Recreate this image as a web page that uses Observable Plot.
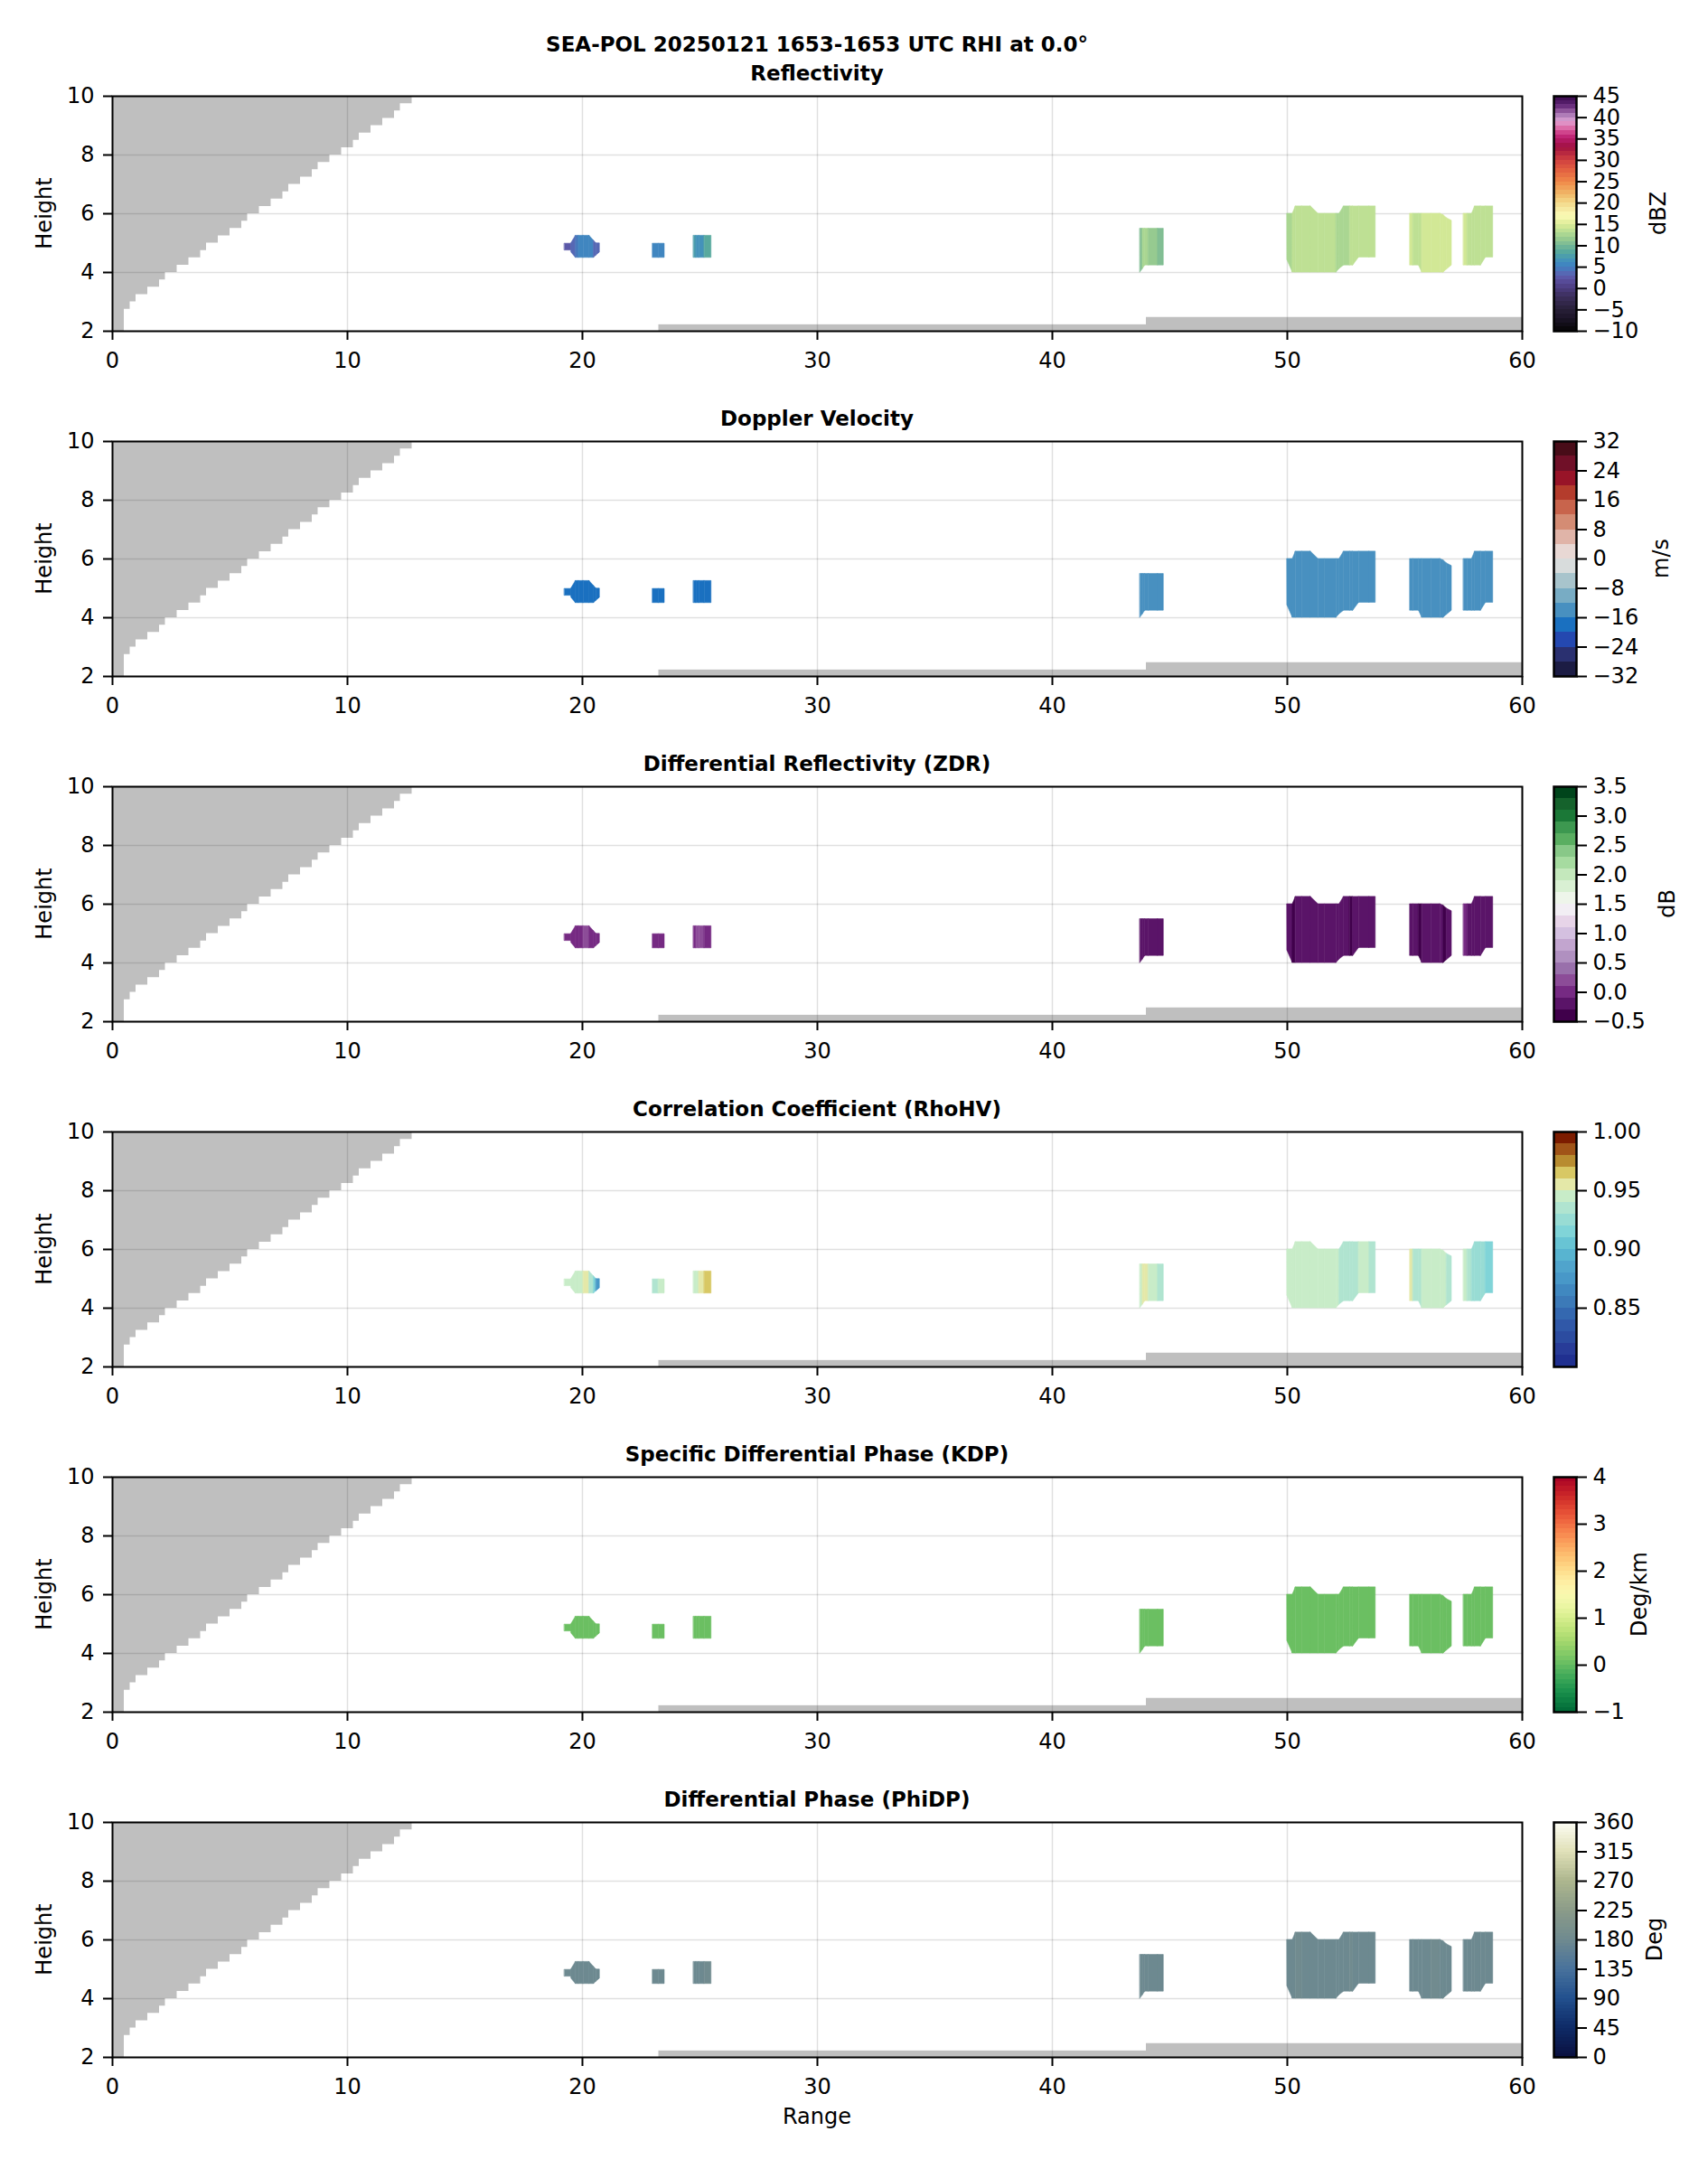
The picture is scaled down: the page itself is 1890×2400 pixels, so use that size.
<!DOCTYPE html>
<html><head><meta charset="utf-8">
<script src="https://cdn.jsdelivr.net/npm/d3@7"></script>
<script src="https://cdn.jsdelivr.net/npm/@observablehq/plot@0.6"></script>
<style>
body{margin:0;background:#fff;}
#root{position:relative;width:1890px;height:2400px;font-family:"DejaVu Sans",Arial,sans-serif;color:#000;background:#fff;}
.lbl{position:absolute;white-space:nowrap;font-size:24px;line-height:1;transform:translate(-50%,-50%);}
.ttl{position:absolute;white-space:nowrap;font-size:23px;font-weight:bold;line-height:1;transform:translate(-50%,-50%);}
.rot{transform:translate(-50%,-50%) rotate(-90deg);}
</style></head><body><div id="root"></div><script>
// ---------- data ----------
const mainTitle = "SEA-POL 20250121 1653-1653 UTC RHI at 0.0°";
const rangeTicks = [0, 10, 20, 30, 40, 50, 60];
const heightTicks = [2, 4, 6, 8, 10];

// blocked (grey) staircase wedge: upper height of each band and its right edge in range
const wedgeTop  = [2.75,3.0,3.25,3.5,3.75,4.0,4.25,4.5,4.75,5.0,5.25,5.5,5.75,6.0,6.25,6.5,6.75,7.0,7.25,7.5,7.75,8.0,8.25,8.5,8.75,9.0,9.25,9.5,9.75,10.0];
const wedgeEdge = [0.5,0.75,1.0,1.5,2.0,2.25,2.75,3.25,3.75,4.0,4.5,5.0,5.5,5.75,6.25,6.75,7.25,7.5,8.0,8.5,8.75,9.25,9.75,10.25,10.5,11.0,11.5,12.0,12.25,12.75];
// ground / low grey strips
const groundStart = [23.25, 44.0];
const groundEnd   = [44.0, 60.0];
const groundTop   = [2.22, 2.47];

// echo blobs: column range positions with bottom / top heights
const blobRange = [
  [19.25,19.53,19.53,19.72,19.85,20.05,20.30,20.49,20.59,20.74],
  [23.0,23.25,23.5],
  [24.74,24.85,24.97,25.2,25.49],
  [43.74,43.85,43.95,44.1,44.5,44.74],
  [50.0,50.23,50.36,50.64,51.0,51.32,51.6,52.09,52.22,52.41,52.67,52.80,53.05,53.5,53.76],
  [55.23,55.36,55.6,55.74,56.13,56.51,56.65,56.79,57.0],
  [57.51,57.67,57.86,57.99,58.24,58.45,58.76]
];
const blobBottom = [
  [4.75,4.75,4.68,4.50,4.50,4.50,4.50,4.50,4.58,4.68],
  [4.5,4.5,4.5],
  [4.5,4.5,4.5,4.5,4.5],
  [4.0,4.12,4.24,4.24,4.24,4.24],
  [4.42,4.0,4.0,4.0,4.0,4.0,4.0,4.0,4.12,4.24,4.24,4.24,4.51,4.51,4.51],
  [4.24,4.24,4.24,4.0,4.0,4.0,4.0,4.1,4.24],
  [4.24,4.24,4.24,4.24,4.24,4.51,4.51]
];
const blobTop = [
  [4.98,4.98,5.00,5.25,5.25,5.25,5.25,5.08,4.99,4.99],
  [4.98,4.98,4.98],
  [5.25,5.25,5.25,5.25,5.25],
  [5.49,5.49,5.49,5.49,5.49,5.49],
  [6.0,6.0,6.25,6.25,6.25,6.0,6.0,6.0,6.0,6.25,6.25,6.25,6.25,6.25,6.25],
  [6.0,6.0,6.0,6.0,6.0,6.0,5.95,5.85,5.76],
  [6.0,6.0,6.0,6.25,6.25,6.25,6.25]
];
// field values between consecutive columns of each blob
const reflectivity = [
  [2.4,null,3.4,4.2,5.3,5.3,5.6,3.2,3.0],
  [5.2,5.2],
  [7.3,6.4,6.8,8.6],
  [10.4,12.3,12.3,11.3,10.6],
  [12.4,13.3,13.3,13.3,13.2,13.3,13.2,12.6,12.4,12.5,13.1,13.2,13.2,13.4],
  [14.3,13.2,13.2,14.3,14.4,14.3,14.2,14.0],
  [14.3,13.2,13.2,13.3,13.3,13.2]
];
const velocity = [
  [-18.5,null,-18,-18,-18,-18,-18,-18,-18.5],
  [-18,-18],
  [-18,-18,-17.5,-17.5],
  [-14,-14,-14,-14,-14],
  [-14,-14,-14,-14,-14,-14,-14,-14,-14,-14,-14,-14,-14,-14],
  [-14,-14,-14,-14,-14,-14,-14,-14],
  [-14,-14,-14,-14,-14,-14]
];
const zdr = [
  [0.05,null,0.0,-0.05,0.0,0.15,0.0,-0.05,-0.05],
  [0.0,-0.05],
  [0.0,0.15,0.2,0.05],
  [-0.2,-0.15,-0.2,-0.2,-0.25],
  [-0.25,-0.35,-0.25,-0.25,-0.2,-0.2,-0.25,-0.25,-0.2,-0.2,-0.35,-0.25,-0.25,-0.2],
  [-0.2,-0.25,-0.35,-0.25,-0.25,-0.2,-0.35,-0.2],
  [-0.1,-0.2,-0.25,-0.2,-0.15,-0.15]
];
const rhohv = [
  [0.945,null,0.945,0.945,0.945,0.955,0.935,0.915,0.875],
  [0.935,0.945],
  [0.945,0.945,0.955,0.965],
  [0.945,0.955,0.955,0.945,0.935],
  [0.945,0.945,0.945,0.945,0.945,0.945,0.945,0.945,0.935,0.935,0.935,0.935,0.945,0.935],
  [0.955,0.935,0.935,0.945,0.945,0.945,0.945,0.935],
  [0.945,0.935,0.925,0.925,0.925,0.915]
];
const kdp = [
  [0.05,null,0.05,0.05,0.05,0.05,0.05,0.05,0.05],
  [0.05,0.05],
  [0.05,0.05,0.05,0.05],
  [0.05,0.05,0.05,0.05,0.05],
  [0.05,0.05,0.05,0.05,0.05,0.05,0.05,0.05,0.05,0.05,0.05,0.05,0.05,0.05],
  [0.05,0.05,0.05,0.05,0.05,0.05,0.05,0.05],
  [0.05,0.05,0.05,0.05,0.05,0.05]
];
const phidp = [
  [176,null,178,177,178,179,178,176,177],
  [176,178],
  [177,175,178,180],
  [175,176,178,177,176],
  [176,178,180,178,175,177,179,178,176,178,180,177,176,178],
  [178,176,177,179,181,178,176,177],
  [178,177,176,178,177,176]
];

// colour tables
const reflStops = [[-10,"#060606"],[-7,"#1c1428"],[-5,"#282038"],[-2,"#3c2e5c"],[0,"#4c3c80"],[2,"#5a50a0"],[3,"#5c60b0"],[4,"#5070b8"],[5,"#4080c0"],[6,"#3f8cc0"],[7,"#4898b4"],[8,"#50a4a4"],[9,"#60ae98"],[10,"#78b898"],[11,"#8cc490"],[12,"#a0d090"],[13,"#b4dc94"],[14,"#c8e494"],[15,"#dcec98"],[16,"#f0f4a8"],[17,"#fcfcb8"],[18,"#f8f0a8"],[19,"#f4e49c"],[20,"#f4d888"],[22,"#f0b868"],[25,"#f08848"],[28,"#e05a40"],[30,"#d04040"],[32,"#b02040"],[33,"#a01040"],[35,"#b81c6c"],[36,"#c83080"],[37,"#d85898"],[38,"#e080b8"],[39,"#e0a0d0"],[40,"#c090c8"],[41,"#a06aa8"],[42,"#7c3e8c"],[43,"#5a2070"],[45,"#3a0a4c"]];
const velColors = ["#1c1c44","#2a3070","#2448b0","#1a70c0","#4890c0","#78acc4","#a8c4cc","#d8dcdc","#e8d8d4","#e0b4a8","#d48c74","#c8644c","#b43c2c","#981428","#701028","#480c18"];
const zdrColors = ["#40004b","#5a1468","#762a83","#8c4c98","#9970ab","#b090c0","#c2a5cf","#d4c0e0","#e7d4e8","#f2eef4","#eef5ea","#d9f0d3","#c4e8bc","#a6dba0","#88c888","#5aae61","#3d9850","#1b7837","#15622c","#00441b"];
const rhoColors = ["#203090","#283c98","#2c4ca0","#3058a8","#3468b0","#3c7ab8","#4088c0","#4898c8","#50a4cc","#58b4d0","#68c4d4","#80d4d8","#98dcd4","#b0e4d0","#c8ecc8","#e4e8a8","#d8c864","#b88c30","#a05418","#7c1c00"];
const phiStops = [[0,"#0a0f3f"],[45,"#0e2a66"],[90,"#22508e"],[135,"#48729c"],[180,"#6f8a8f"],[225,"#8b9b89"],[270,"#adb68e"],[315,"#e0e0b8"],[360,"#fdfdf4"]];

const fields = [
  {title:"Reflectivity", unit:"dBZ", values:reflectivity, lo:-10, hi:45, step:1, stops:reflStops, ticks:[-10,-5,0,5,10,15,20,25,30,35,40,45], fmt:"d", unitX:1835},
  {title:"Doppler Velocity", unit:"m/s", values:velocity, lo:-32, hi:32, step:4, colors:velColors, ticks:[-32,-24,-16,-8,0,8,16,24,32], fmt:"d", unitX:1838},
  {title:"Differential Reflectivity (ZDR)", unit:"dB", values:zdr, lo:-0.5, hi:3.5, step:0.2, colors:zdrColors, ticks:[-0.5,0,0.5,1,1.5,2,2.5,3,3.5], fmt:".1f", unitX:1845},
  {title:"Correlation Coefficient (RhoHV)", unit:null, values:rhohv, lo:0.8, hi:1.0, step:0.01, colors:rhoColors, ticks:[0.85,0.9,0.95,1.0], fmt:".2f", unitX:null},
  {title:"Specific Differential Phase (KDP)", unit:"Deg/km", values:kdp, lo:-1, hi:4, step:0.1, interp:t => d3.interpolateRdYlGn(1 - t), ticks:[-1,0,1,2,3,4], fmt:"d", unitX:1814},
  {title:"Differential Phase (PhiDP)", unit:"Deg", values:phidp, lo:0, hi:360, step:5, stops:phiStops, ticks:[0,45,90,135,180,225,270,315,360], fmt:"d", unitX:1831}
];

// ---------- layout ----------
const root = document.getElementById("root");
const FONT = '"DejaVu Sans", Arial, sans-serif';
const plotLeft = 124, plotRight = 1684, panelH = 260, svgW = 1700;
const panelTops = [106, 488, 870, 1252, 1634, 2016];
const mt = 10, mb = 60;

function addDiv(cls, text, x, y) {
  const d = document.createElement("div");
  d.className = cls; d.textContent = text;
  d.style.left = x + "px"; d.style.top = y + "px";
  root.appendChild(d); return d;
}
function place(svg, left, top) {
  svg.style.position = "absolute"; svg.style.left = left + "px"; svg.style.top = top + "px";
  root.appendChild(svg);
}

// tables built from the arrays
const wedgePts = [];
wedgeTop.forEach((t, i) => {
  const b = i === 0 ? 2 : wedgeTop[i - 1];
  wedgePts.push({y: b, x: wedgeEdge[i]}, {y: t, x: wedgeEdge[i]});
});
const ground = groundStart.map((s, i) => ({x1: s, x2: groundEnd[i], y2: groundTop[i]}));

function segments(vals) {
  const out = [];
  blobRange.forEach((xs, b) => {
    for (let i = 0; i < xs.length - 1; i++) {
      const v = vals[b][i];
      if (v == null || xs[i + 1] <= xs[i]) continue;
      const id = b + "-" + i;
      out.push({id, v, x: xs[i], y1: blobBottom[b][i], y2: blobTop[b][i]});
      out.push({id, v, x: xs[i + 1], y1: blobBottom[b][i + 1], y2: blobTop[b][i + 1]});
    }
  });
  return out;
}

function colorScale(f) {
  const n = Math.round((f.hi - f.lo) / f.step);
  const edges = d3.range(n + 1).map(i => +(f.lo + i * f.step).toFixed(6));
  const mids = d3.range(n).map(i => (edges[i] + edges[i + 1]) / 2);
  let colors;
  if (f.colors) colors = f.colors;
  else if (f.stops) {
    const s = d3.scaleLinear().domain(f.stops.map(d => d[0])).range(f.stops.map(d => d[1])).interpolate(d3.interpolateRgb);
    colors = mids.map(m => s(m));
  } else colors = mids.map(m => f.interp((m - f.lo) / (f.hi - f.lo)));
  const bins = mids.map((m, i) => ({lo: edges[i], hi: edges[i + 1], mid: m}));
  return {scale: {type: "threshold", domain: edges.slice(1, -1), range: colors}, bins};
}

addDiv("ttl", mainTitle, 904, 49);

fields.forEach((f, k) => {
  const top = panelTops[k];
  const cs = colorScale(f);
  const main = Plot.plot({
    width: svgW, height: mt + panelH + mb,
    marginTop: mt, marginBottom: mb, marginLeft: plotLeft, marginRight: svgW - plotRight,
    style: {fontFamily: FONT, fontSize: "24px", color: "#000", background: "transparent", overflow: "visible"},
    x: {domain: [0, 60]},
    y: {domain: [2, 10]},
    color: cs.scale,
    marks: [
      Plot.gridX(rangeTicks, {stroke: "#000", strokeOpacity: 0.12, strokeWidth: 1.5}),
      Plot.gridY(heightTicks, {stroke: "#000", strokeOpacity: 0.12, strokeWidth: 1.5}),
      Plot.areaX(wedgePts, {y: "y", x1: 0, x2: "x", fill: "#000", fillOpacity: 0.25}),
      Plot.rect(ground, {x1: "x1", x2: "x2", y1: 2, y2: "y2", fill: "#000", fillOpacity: 0.25}),
      Plot.areaY(segments(f.values), {x: "x", y1: "y1", y2: "y2", z: "id", fill: "v", stroke: "v", strokeWidth: 0.6}),
      Plot.frame({stroke: "#000", strokeWidth: 2}),
      Plot.axisX({ticks: rangeTicks, tickSize: 10, tickPadding: 13, strokeWidth: 2, tickFormat: d3.format("d"), label: null}),
      Plot.axisY({ticks: heightTicks, tickSize: 10, tickPadding: 10, strokeWidth: 2, tickFormat: d3.format("d"), label: null})
    ]
  });
  place(main, 0, top - mt);

  const cbW = 170, cbL = 19, cbBar = 25;
  const cb = Plot.plot({
    width: cbW, height: panelH + 30, marginTop: 15, marginBottom: 15, marginLeft: cbL, marginRight: cbW - cbL - cbBar,
    style: {fontFamily: FONT, fontSize: "24px", color: "#000", background: "transparent", overflow: "visible"},
    x: {domain: [0, 1], axis: null},
    y: {domain: [f.lo, f.hi]},
    color: cs.scale,
    marks: [
      Plot.rect(cs.bins, {x1: 0, x2: 1, y1: "lo", y2: "hi", fill: "mid", shapeRendering: "crispEdges"}),
      Plot.frame({stroke: "#000", strokeWidth: 2.5}),
      Plot.axisY({anchor: "right", ticks: f.ticks, tickSize: 11, tickPadding: 7, strokeWidth: 2, tickFormat: d3.format(f.fmt), label: null})
    ]
  });
  place(cb, 1700, top - 15);

  addDiv("ttl", f.title, 904, top - 25);
  addDiv("lbl rot", "Height", 49, top + panelH / 2);
  if (f.unit) addDiv("lbl rot", f.unit, f.unitX, top + panelH / 2);
});
addDiv("lbl", "Range", 904, 2342);
</script></body></html>
